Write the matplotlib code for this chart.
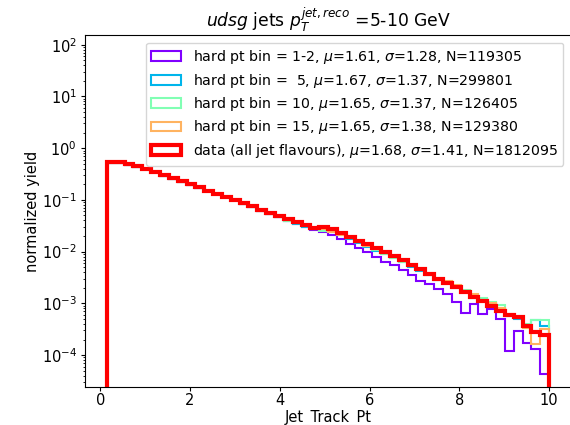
## JET TRACK PT SPECTRA, MC HARD PT BINS VS DATA

import numpy as np
import matplotlib
matplotlib.use("Agg")
import matplotlib.pyplot as plt

edges = np.linspace(0.15, 10, 51)                              #50 bins, track pt > 0.15

labels = ["hard pt bin = 1-2, $\\mu$=1.61, $\\sigma$=1.28, N=119305",
          "hard pt bin =  5, $\\mu$=1.67, $\\sigma$=1.37, N=299801",
          "hard pt bin = 10, $\\mu$=1.65, $\\sigma$=1.37, N=126405",
          "hard pt bin = 15, $\\mu$=1.65, $\\sigma$=1.38, N=129380",
          "data (all jet flavours), $\\mu$=1.68, $\\sigma$=1.41, N=1812095"]

yield_1_2 = [0.525, 0.525, 0.479, 0.437, 0.389, 0.339, 0.295, 0.257, 0.224, 0.195,
             0.170, 0.148, 0.129, 0.112, 0.0977, 0.0851, 0.0741, 0.0617, 0.0537, 0.0457,
             0.0398, 0.0347, 0.0302, 0.0263, 0.0245, 0.0214, 0.0174, 0.0141, 0.0120, 0.0100,
             0.00794, 0.00631, 0.00550, 0.00437, 0.00347, 0.00275, 0.00234, 0.00191, 0.00151, 0.00105,
             0.000661, 0.000955, 0.000617, 0.000794, 0.000490, 0.000120, 0.000288, 0.000174, 0.000129, 0.0000427]

yield_5 = [0.525, 0.525, 0.479, 0.437, 0.389, 0.339, 0.295, 0.257, 0.224, 0.195,
           0.170, 0.148, 0.129, 0.112, 0.0977, 0.0832, 0.0724, 0.0603, 0.0525, 0.0457,
           0.0398, 0.0347, 0.0302, 0.0269, 0.0263, 0.0245, 0.0209, 0.0178, 0.0148, 0.0123,
           0.0105, 0.00891, 0.00741, 0.00617, 0.00513, 0.00427, 0.00347, 0.00288, 0.00251, 0.00200,
           0.00166, 0.00126, 0.00120, 0.00100, 0.000794, 0.000575, 0.000501, 0.000363, 0.000479, 0.000363]

yield_10 = [0.525, 0.525, 0.479, 0.437, 0.389, 0.339, 0.295, 0.257, 0.224, 0.195,
            0.170, 0.148, 0.129, 0.112, 0.0977, 0.0851, 0.0724, 0.0617, 0.0525, 0.0468,
            0.0398, 0.0355, 0.0309, 0.0269, 0.0251, 0.0251, 0.0214, 0.0182, 0.0151, 0.0129,
            0.0107, 0.00912, 0.00759, 0.00631, 0.00525, 0.00437, 0.00355, 0.00295, 0.00263, 0.00219,
            0.00182, 0.00138, 0.00126, 0.00105, 0.000912, 0.000603, 0.000525, 0.000398, 0.000479, 0.000479]

yield_15 = [0.525, 0.525, 0.479, 0.437, 0.389, 0.339, 0.295, 0.257, 0.224, 0.195,
            0.170, 0.148, 0.129, 0.112, 0.0977, 0.0851, 0.0741, 0.0617, 0.0537, 0.0468,
            0.0407, 0.0355, 0.0309, 0.0275, 0.0269, 0.0245, 0.0214, 0.0182, 0.0155, 0.0129,
            0.0110, 0.00933, 0.00776, 0.00646, 0.00537, 0.00447, 0.00363, 0.00302, 0.00275, 0.00229,
            0.00174, 0.00151, 0.00115, 0.00100, 0.000832, 0.000631, 0.000550, 0.000331, 0.000166, 0.000316]

yield_data = [0.537, 0.537, 0.490, 0.447, 0.398, 0.347, 0.302, 0.263, 0.229, 0.200,
              0.174, 0.151, 0.132, 0.115, 0.100, 0.0871, 0.0759, 0.0646, 0.0562, 0.0490,
              0.0427, 0.0372, 0.0331, 0.0288, 0.0302, 0.0269, 0.0229, 0.0195, 0.0162, 0.0138,
              0.0117, 0.00977, 0.00813, 0.00676, 0.00550, 0.00457, 0.00372, 0.00302, 0.00251, 0.00204,
              0.00166, 0.00135, 0.00110, 0.000871, 0.000724, 0.000603, 0.000537, 0.000363, 0.000282, 0.000240]

y_ticks = [1e-4, 1e-3, 1e-2, 1e-1, 1e0, 1e1, 1e2]

mc_yields = [yield_1_2, yield_5, yield_10, yield_15]
colors = plt.cm.rainbow(np.linspace(0, 1, 5))                 #purple -> red

centers = 0.5 * (edges[1:] + edges[:-1])

fig = plt.figure(figsize=(5.7, 4.25), dpi=100)
ax = fig.add_axes([0.149, 0.089, 0.853, 0.829])

for i in range(4):
    ax.hist(centers, bins=edges, weights=mc_yields[i], histtype="step",
            color=colors[i], linewidth=1.5, label=labels[i])
ax.hist(centers, bins=edges, weights=yield_data, histtype="step",
        color="red", linewidth=3, label=labels[4])

ax.set_yscale("log")
ax.set_ylim(2.4e-5, 155)
ax.set_yticks(y_ticks)
ax.set_xlim(-0.34, 10.49)
ax.set_xticks([0, 2, 4, 6, 8, 10])
ax.tick_params(axis="x", length=2.8, pad=1.5, labelsize=10.5)
ax.tick_params(axis="y", which="major", length=2.8, pad=3, labelsize=10.5)
ax.tick_params(axis="y", which="minor", length=1.6)
ax.set_xlabel("Jet_Track_Pt", fontsize=10.5, labelpad=1.0)
ax.set_ylabel("normalized yield", fontsize=10.5, labelpad=1.5)
ax.set_title("$udsg$ jets $p_T^{jet, reco}$ =5-10 GeV", fontsize=12.3, pad=6)
ax.legend(loc="upper right", fontsize=10.2, labelspacing=0.38,
          handlelength=2.1, borderaxespad=0.55)

fig.savefig("out.png", dpi=100)
